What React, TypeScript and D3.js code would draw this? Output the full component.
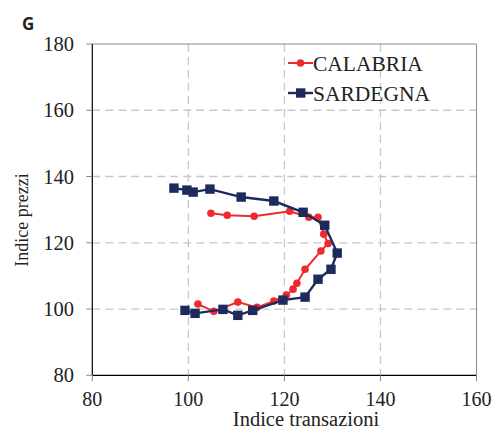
import React from 'react';
import * as d3 from 'd3';

const calabriaX = [104.7, 108.1, 113.7, 121.1, 125.1, 127.0, 128.2, 129.1, 127.6, 124.3, 122.6, 121.8, 120.4, 117.8, 114.3, 110.3, 105.3, 102.0];
const calabriaY = [128.9, 128.3, 128.0, 129.5, 127.7, 127.7, 122.6, 119.8, 117.5, 112.0, 107.8, 106.0, 104.2, 102.4, 100.5, 102.1, 99.3, 101.5];

const sardegnaX = [97.0, 99.7, 101.0, 104.5, 111.0, 117.8, 123.9, 128.4, 131.0, 129.7, 127.0, 124.3, 119.7, 113.4, 110.3, 107.2, 101.4, 99.3];
const sardegnaY = [136.5, 135.9, 135.3, 136.2, 133.8, 132.6, 129.2, 125.3, 116.9, 112.0, 109.0, 103.6, 102.7, 99.6, 98.1, 99.9, 98.7, 99.6];

const xTicks = [80, 100, 120, 140, 160];
const yTicks = [80, 100, 120, 140, 160, 180];

const seriesNames = ['CALABRIA', 'SARDEGNA'];
const RED = '#ee2a2e';
const NAVY = '#1c2a5e';
const FONT = '"Liberation Serif", "Times New Roman", serif';

export default function App() {
  const W = 495, H = 431;
  const left = 92.3, right = 476.5, top = 44, bottom = 375.3;
  const x = d3.scaleLinear().domain([80, 160]).range([left, right]);
  const y = d3.scaleLinear().domain([80, 180]).range([bottom, top]);

  const cal = calabriaX.map((v, i) => [v, calabriaY[i]] as [number, number]);
  const sar = sardegnaX.map((v, i) => [v, sardegnaY[i]] as [number, number]);
  const line = d3.line<[number, number]>().x(d => x(d[0])).y(d => y(d[1]));

  return (
    <svg width={W} height={H} style={{ position: 'absolute', left: 0, top: 0, background: '#fff' }}>
      <rect width={W} height={H} fill="#fff" />
      <text x={22} y={30} fontFamily='"Open Sans", "DejaVu Sans", sans-serif' fontWeight="bold" fontSize={17} fill="#222">G</text>

      {/* grid */}
      {yTicks.filter(t => t > 80 && t < 180).map(t => (
        <line key={'gy' + t} x1={left} x2={right} y1={y(t)} y2={y(t)} stroke="#c8c8c8" strokeWidth={1.3} strokeDasharray="8,5" />
      ))}
      {xTicks.filter(t => t > 80 && t < 160).map(t => (
        <line key={'gx' + t} x1={x(t)} x2={x(t)} y1={top} y2={bottom} stroke="#c8c8c8" strokeWidth={1.3} strokeDasharray="8,5" />
      ))}

      {/* frame */}
      <line x1={left} x2={right} y1={top} y2={top} stroke="#8a8a8a" strokeWidth={1} />
      <line x1={right} x2={right} y1={top} y2={bottom} stroke="#8a8a8a" strokeWidth={1} />
      <line x1={left} x2={left} y1={top} y2={bottom} stroke="#000" strokeWidth={1.2} />
      <line x1={left} x2={right} y1={bottom} y2={bottom} stroke="#000" strokeWidth={1.2} />

      {/* ticks */}
      {yTicks.map(t => (
        <g key={'yt' + t}>
          <line x1={left - 6} x2={left} y1={y(t)} y2={y(t)} stroke="#888" />
          <text x={74} y={y(t) + 7} textAnchor="end" fontFamily={FONT} fontSize={20.5} fill="#222">{t}</text>
        </g>
      ))}
      {xTicks.map(t => (
        <g key={'xt' + t}>
          <line x1={x(t)} x2={x(t)} y1={bottom} y2={bottom + 6} stroke="#888" />
          <text x={x(t)} y={405.5} textAnchor="middle" fontFamily={FONT} fontSize={20} fill="#222">{t}</text>
        </g>
      ))}

      <text x={306} y={425.5} textAnchor="middle" fontFamily={FONT} fontSize={20.5} fill="#222">Indice transazioni</text>
      <text transform="translate(28,220) rotate(-90)" textAnchor="middle" fontFamily={FONT} fontSize={18} fill="#222">Indice prezzi</text>

      {/* series */}
      <path d={line(cal) || ''} fill="none" stroke={RED} strokeWidth={2} />
      {cal.map((d, i) => (
        <circle key={'c' + i} cx={x(d[0])} cy={y(d[1])} r={3.8} fill={RED} />
      ))}
      <path d={line(sar) || ''} fill="none" stroke={NAVY} strokeWidth={2.4} />
      {sar.map((d, i) => (
        <rect key={'s' + i} x={x(d[0]) - 4.7} y={y(d[1]) - 4.7} width={9.4} height={9.4} fill={NAVY} />
      ))}

      {/* legend */}
      <g>
        <line x1={288} x2={313} y1={63} y2={63} stroke={RED} strokeWidth={2} />
        <circle cx={300.5} cy={63} r={3.8} fill={RED} />
        <text x={313} y={70.5} fontFamily={FONT} fontSize={21.5} fill="#222">{seriesNames[0]}</text>
        <line x1={288} x2={313} y1={93} y2={93} stroke={NAVY} strokeWidth={2.4} />
        <rect x={296} y={88.3} width={9.4} height={9.4} fill={NAVY} />
        <text x={313} y={100.5} fontFamily={FONT} fontSize={21.5} fill="#222">{seriesNames[1]}</text>
      </g>
    </svg>
  );
}
